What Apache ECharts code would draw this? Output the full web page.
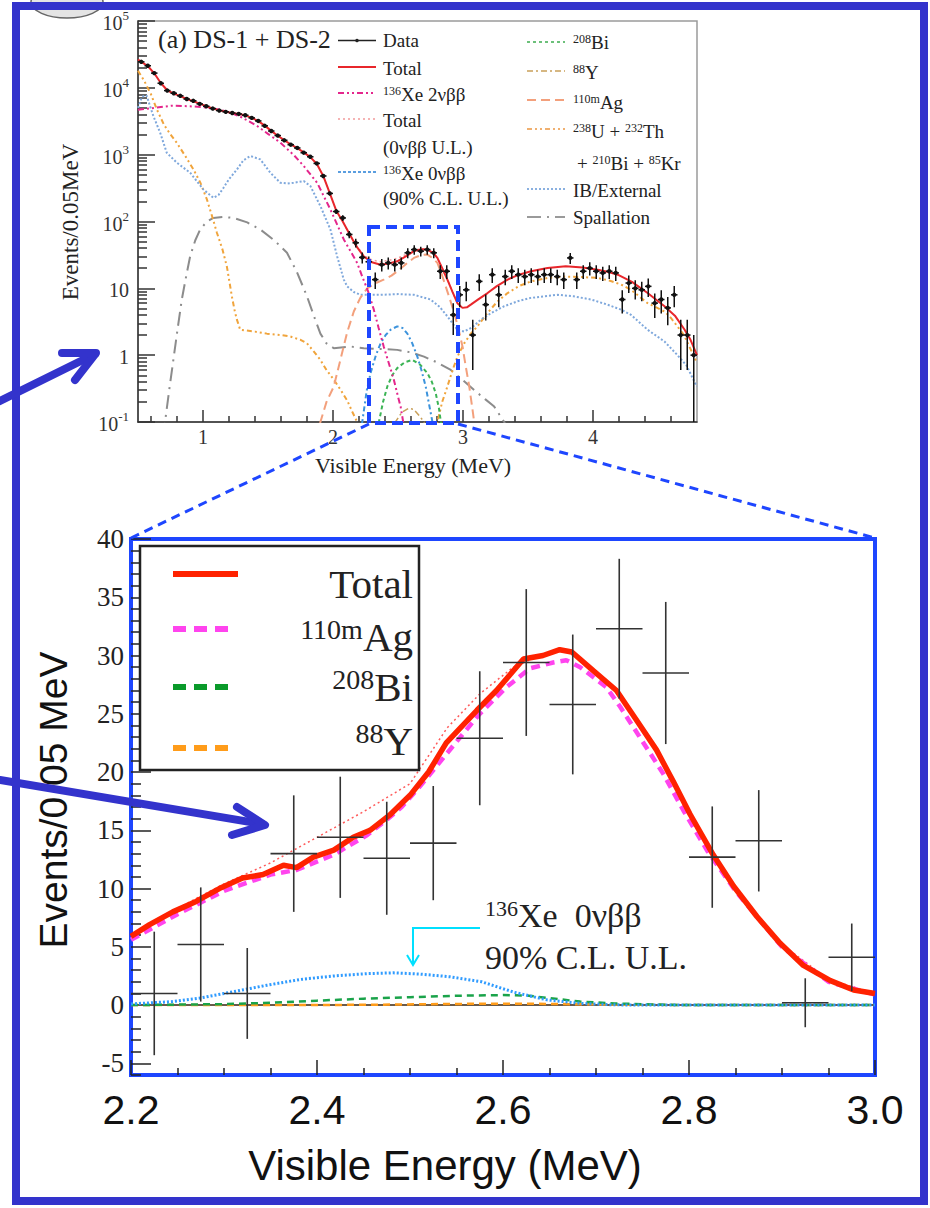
<!DOCTYPE html>
<html><head><meta charset="utf-8">
<script src="https://cdn.jsdelivr.net/npm/echarts@6/dist/echarts.min.js"></script>
<style>html,body{margin:0;padding:0;background:#fff}#c{width:930px;height:1208px}</style>
</head><body><div id="c"></div>
<script>
// ================= DATA =================
// ---- Top panel (log scale), tick values ----
const topXMajor = [1, 2, 3, 4];
const topXMinor = [0.6, 0.8, 1.2, 1.4, 1.6, 1.8, 2.2, 2.4, 2.6, 2.8, 3.2, 3.4, 3.6, 3.8, 4.2, 4.4, 4.6];
const topYMajor = [0.1, 1, 10, 100, 1000, 10000, 100000];
const topYMinor = [0.2,0.3,0.4,0.5,0.6,0.7,0.8,0.9,2,3,4,5,6,7,8,9,20,30,40,50,60,70,80,90,200,300,400,500,600,700,800,900,2000,3000,4000,5000,6000,7000,8000,9000,20000,30000,40000,50000,60000,70000,80000,90000];

// Data: [energy, events, error]
const topData = [
 [0.525,24500,157],[0.575,21400,146],[0.625,16600,129],[0.675,11700,108],[0.725,9100,95],[0.775,8300,91],[0.825,7600,87],[0.875,6800,82],[0.925,6400,80],[0.975,5750,76],
 [1.025,5300,73],[1.075,4900,70],[1.125,4570,68],[1.175,4370,66],[1.225,4200,65],[1.275,4070,64],[1.325,3890,62],[1.375,3550,60],[1.425,3200,57],[1.475,2700,52],
 [1.525,2260,48],[1.575,1930,44],[1.625,1640,40],[1.675,1410,38],[1.725,1260,35],[1.775,1070,33],[1.825,930,30],[1.875,740,27],[1.925,480,22],[1.975,263,16],
 [2.025,141,12],[2.075,113,11],[2.125,64,8],[2.175,48,7],[2.225,29,5.4],[2.275,25,5],[2.325,13.5,3.7],[2.375,22.6,4.8],[2.425,24,4.9],[2.475,22.6,4.8],
 [2.525,24,4.9],[2.575,34,5.8],[2.625,38,6.2],[2.675,36,6],[2.725,38,6.2],[2.775,34,5.8],[2.825,18,4.2],[2.875,18,4.2],[2.925,4,2],[2.975,8,2.8],
 [3.025,9.5,3.1],[3.075,2,1.4],[3.125,12.7,3.6],[3.175,5.7,2.4],[3.225,16,4],[3.275,8,2.8],[3.325,15,3.9],[3.375,18,4.2],[3.425,16,4],[3.475,15,3.9],
 [3.525,16,4],[3.575,15,3.9],[3.625,16,4],[3.675,16,4],[3.725,15,3.9],[3.775,13.5,3.7],[3.825,28.5,5.3],[3.875,13.5,3.7],[3.925,18,4.2],[3.975,20,4.5],
 [4.025,18,4.2],[4.075,17,4.1],[4.125,18,4.2],[4.175,17,4.1],[4.225,6.8,2.6],[4.275,12,3.5],[4.325,10,3.2],[4.375,9.5,3.1],[4.425,10.7,3.3],[4.475,6,2.4],
 [4.525,6.8,2.6],[4.575,5.1,2.3],[4.625,8,2.8],[4.675,2,1.4],[4.725,2,1.4],[4.775,1,1]
];
const topTotal = [[0.5,26500],[0.525,24500],[0.575,21200],[0.625,16500],[0.675,11800],[0.725,9200],[0.775,8200],[0.825,7500],[0.875,6800],[0.925,6300],[0.975,5800],[1.025,5300],[1.075,4900],[1.125,4600],[1.175,4380],[1.225,4200],[1.275,4060],[1.325,3880],[1.375,3560],[1.425,3180],[1.475,2720],[1.525,2270],[1.575,1920],[1.625,1650],[1.675,1420],[1.725,1250],[1.775,1080],[1.825,920],[1.875,730],[1.925,480],[1.975,265],[2.025,145],[2.075,100],[2.125,66],[2.175,44],[2.237,30],[2.3,24.5],[2.366,22.6],[2.43,23.5],[2.494,25.4],[2.56,30],[2.622,36],[2.68,38.5],[2.726,38],[2.77,34],[2.803,28.5],[2.84,20],[2.88,13.5],[2.92,8.8],[2.957,6.0],[2.996,5.1],[3.03,5.2],[3.06,5.7],[3.12,6.9],[3.189,8.5],[3.26,10.8],[3.343,13.5],[3.43,16],[3.523,18],[3.65,20.2],[3.79,21.4],[3.92,20.5],[4.036,19],[4.12,17.6],[4.19,16],[4.3,12.5],[4.42,8.5],[4.55,5.4],[4.63,3.9],[4.705,2.4],[4.75,1.7],[4.8,1.0]];
const topTotalUL = [[2.1,80],[2.175,45],[2.237,31],[2.3,26.5],[2.366,25],[2.43,26.2],[2.494,28.2],[2.56,32],[2.622,37],[2.68,39],[2.726,38.2],[2.77,34],[2.803,28.5],[2.84,20],[2.88,13.5],[2.92,8.8],[2.957,6.0]];
const topXe2nu = [[0.5,4700],[0.6,4950],[0.76,5400],[0.9,5300],[1.03,5070],[1.12,4750],[1.21,4270],[1.3,3600],[1.415,2700],[1.5,2050],[1.595,1510],[1.7,980],[1.775,676],[1.878,380],[1.98,151],[2.083,54],[2.186,24],[2.225,15],[2.27,9],[2.314,4.8],[2.35,2.6],[2.39,1.35],[2.43,0.75],[2.468,0.43],[2.5,0.24],[2.52,0.17],[2.54,0.1],[2.56,0.06]];
const topXe0nu = [[2.2,0.06],[2.225,0.1],[2.26,0.3],[2.289,0.54],[2.33,1.0],[2.366,1.5],[2.405,2.0],[2.443,2.4],[2.494,2.7],[2.535,2.55],[2.572,2.1],[2.61,1.5],[2.649,0.95],[2.68,0.6],[2.713,0.34],[2.74,0.18],[2.765,0.1],[2.78,0.06]];
const topBi208 = [[2.33,0.06],[2.353,0.1],[2.385,0.2],[2.418,0.34],[2.455,0.5],[2.494,0.64],[2.55,0.78],[2.61,0.85],[2.67,0.72],[2.726,0.54],[2.76,0.4],[2.79,0.27],[2.815,0.16],[2.83,0.1],[2.845,0.06]];
const topY88 = [[2.46,0.06],[2.48,0.1],[2.53,0.14],[2.58,0.16],[2.62,0.155],[2.67,0.12],[2.70,0.1],[2.72,0.06]];
const topAg110m = [[1.88,0.06],[1.903,0.1],[1.95,0.2],[2.006,0.34],[2.06,0.9],[2.109,2.2],[2.16,4.5],[2.21,7.2],[2.263,10],[2.33,12],[2.39,13.5],[2.45,15.5],[2.494,18],[2.56,23],[2.622,28.5],[2.68,31.5],[2.726,32],[2.77,28],[2.803,24],[2.835,16.5],[2.867,10.7],[2.9,6.8],[2.932,4.3],[2.965,2.5],[2.996,1.35],[3.02,0.7],[3.048,0.34],[3.07,0.17],[3.086,0.1],[3.1,0.06]];
const topUThLow = [[0.5,18000],[0.55,12500],[0.6,8000],[0.644,4800],[0.7,2800],[0.75,2000],[0.798,1510],[0.86,980],[0.927,600],[0.98,380],[1.03,214],[1.07,120],[1.107,68],[1.15,38],[1.184,21],[1.205,12],[1.222,7.6],[1.245,4.5],[1.261,3.4],[1.286,2.4],[1.4,2.25],[1.492,2.1],[1.6,2.0],[1.672,1.9],[1.75,1.7],[1.8,1.5],[1.85,1.15],[1.903,0.85],[1.95,0.6],[2.006,0.43],[2.06,0.3],[2.109,0.21],[2.15,0.14],[2.186,0.1],[2.2,0.08]];
const topUThHigh = [[2.78,0.06],[2.803,0.1],[2.84,0.2],[2.88,0.34],[2.92,0.6],[2.957,0.95],[3.009,1.5],[3.06,2.1],[3.111,2.7],[3.189,4.3],[3.26,6.2],[3.343,8.5],[3.43,10.8],[3.523,12.7],[3.65,14.3],[3.78,15],[3.908,14.8],[4.036,14.3],[4.13,13],[4.216,11.4],[4.293,9.5],[4.42,6.0],[4.55,4.5],[4.6,3.6],[4.7,2.0],[4.795,0.8]];
const topIB = [[0.5,5000],[0.529,7200],[0.55,7700],[0.567,7600],[0.59,5500],[0.618,3800],[0.67,2140],[0.721,1070],[0.798,760],[0.901,537],[1.003,302],[1.08,226],[1.12,250],[1.158,320],[1.2,430],[1.261,600],[1.31,820],[1.364,955],[1.441,850],[1.518,537],[1.595,380],[1.65,370],[1.697,380],[1.775,403],[1.826,339],[1.903,170],[1.98,76],[2.032,30],[2.083,13.5],[2.109,10.7],[2.16,8.8],[2.212,8],[2.366,8],[2.5,8.2],[2.622,8],[2.751,6.8],[2.82,5.3],[2.88,3.8],[2.957,2.4],[3.009,2.26],[3.07,2.6],[3.137,3.4],[3.22,4.3],[3.317,5.4],[3.42,6.4],[3.523,7.2],[3.728,8],[3.85,7.6],[3.985,6.8],[4.1,5.8],[4.216,4.8],[4.293,4.0],[4.42,2.4],[4.55,1.6],[4.65,1.0],[4.72,0.7],[4.78,0.4],[4.8,0.34]];
const topSpall = [[0.7,0.06],[0.708,0.1],[0.74,0.3],[0.772,0.85],[0.805,2.5],[0.837,6.8],[0.87,15],[0.901,30],[0.94,52],[0.978,76],[1.03,100],[1.08,113],[1.16,117],[1.235,113],[1.34,97],[1.441,76],[1.55,52],[1.646,34],[1.72,18],[1.8,7.6],[1.85,4.0],[1.903,2.1],[1.95,1.5],[2.006,1.27],[2.135,1.35],[2.237,1.27],[2.4,1.23],[2.494,1.2],[2.6,1.1],[2.7,0.95],[2.8,0.78],[2.906,0.6],[3.0,0.42],[3.086,0.3],[3.17,0.22],[3.24,0.17],[3.317,0.1],[3.35,0.075]];

// ---- Bottom panel (linear zoom 2.2 - 3.0 MeV) ----
const botXMajor = [2.2, 2.4, 2.6, 2.8, 3.0];
const botXMinor = [2.25, 2.3, 2.35, 2.45, 2.5, 2.55, 2.65, 2.7, 2.75, 2.85, 2.9, 2.95];
const botYMajor = [-5, 0, 5, 10, 15, 20, 25, 30, 35, 40];
const botYMinor = [-6,-4,-3,-2,-1,1,2,3,4,6,7,8,9,11,12,13,14,16,17,18,19,21,22,23,24,26,27,28,29,31,32,33,34,36,37,38,39];
const botData = [[2.225,1.0,5.3],[2.275,5.2,4.9],[2.325,1.0,3.9],[2.375,13.0,5.0],[2.425,14.4,5.2],[2.475,12.6,4.85],[2.525,13.9,4.9],[2.575,22.9,5.75],[2.625,29.4,6.3],[2.675,25.8,6.0],[2.725,32.3,6.0],[2.775,28.5,6.1],[2.825,12.7,4.35],[2.875,14.1,4.35],[2.925,0.2,2.1],[2.975,4.1,2.9]];
const botTotal = [[2.2,5.9],[2.22,6.9],[2.245,8.0],[2.27,8.9],[2.295,10.0],[2.32,10.9],[2.342,11.2],[2.364,12.0],[2.378,11.8],[2.396,12.7],[2.418,13.3],[2.439,14.4],[2.457,15.0],[2.478,16.3],[2.5,18.0],[2.52,20.0],[2.539,22.5],[2.572,25.3],[2.593,27.0],[2.622,29.7],[2.643,30.0],[2.661,30.5],[2.674,30.3],[2.697,28.7],[2.722,27.0],[2.744,24.4],[2.765,21.9],[2.783,19.2],[2.801,16.4],[2.826,12.9],[2.848,10.2],[2.873,7.6],[2.898,5.3],[2.923,3.4],[2.952,2.1],[2.977,1.3],[3.0,1.0]];
const botTotalUL = [[2.2,6.0],[2.25,8.3],[2.3,10.4],[2.35,12.2],[2.4,14.4],[2.45,16.6],[2.5,19.0],[2.54,23.8],[2.575,26.7],[2.611,29.0],[2.64,30.0],[2.662,30.6],[2.68,30.0],[2.7,28.6],[2.722,27.0],[2.744,24.4],[2.765,21.9],[2.783,19.2],[2.801,16.4],[2.826,12.9],[2.85,10.0],[2.9,5.2],[2.95,2.2],[3.0,1.0]];
const botAg110m = [[2.2,5.6],[2.25,7.8],[2.3,9.8],[2.35,11.2],[2.378,11.6],[2.418,12.9],[2.454,14.6],[2.475,15.9],[2.491,17.0],[2.511,18.8],[2.55,22.6],[2.575,25.0],[2.604,27.3],[2.629,28.9],[2.654,29.4],[2.668,29.6],[2.683,29.0],[2.711,27.3],[2.726,25.6],[2.747,23.0],[2.772,19.9],[2.794,16.7],[2.82,13.2],[2.85,9.8],[2.9,5.0],[2.95,2.0],[3.0,0.9]];
const botXe0nu = [[2.2,0.1],[2.245,0.3],[2.274,0.6],[2.31,1.15],[2.346,1.7],[2.382,2.2],[2.418,2.5],[2.454,2.7],[2.482,2.77],[2.511,2.66],[2.543,2.43],[2.577,2.0],[2.612,1.1],[2.647,0.45],[2.683,0.15],[2.72,0.02],[2.8,0],[3.0,0]];
const botBi208 = [[2.2,0],[2.3,0.08],[2.35,0.2],[2.4,0.38],[2.45,0.55],[2.5,0.68],[2.55,0.8],[2.6,0.86],[2.625,0.82],[2.65,0.6],[2.683,0.3],[2.72,0.14],[2.76,0.05],[2.8,0],[3.0,0]];
const botY88 = [[2.2,0],[2.45,0.02],[2.55,0.1],[2.6,0.12],[2.65,0.1],[2.75,0.02],[3.0,0]];
const botOthers = [[2.2,0],[2.6,0],[3.0,0]];

// ================= CHART =================
const SERIF = 'Liberation Serif';
const SANS = 'Liberation Sans';
const BLUE = '#1e46ff';
const FRAME = '#3333cc';

function line(name, data, xi, yi, color, width, dash, z) {
  return {type: 'line', name: name, xAxisIndex: xi, yAxisIndex: yi, data: data, showSymbol: false, symbol: 'none',
    lineStyle: {color: color, width: width, type: dash || 'solid'}, z: z || 3, silent: true, clip: true};
}
function errSeries(data, xi, yi, hw, yFloor, color, lw, dotR) {
  return {
    type: 'custom', xAxisIndex: xi, yAxisIndex: yi, data: data, z: 20, silent: true, clip: true,
    encode: {x: 0, y: 1},
    renderItem: function (params, api) {
      const x = api.value(0), y = api.value(1), e = api.value(2);
      const lo = Math.max(y - e, yFloor);
      const c = api.coord([x, y]);
      const cl = api.coord([x, lo]);
      const ch = api.coord([x, y + e]);
      const xl = api.coord([x - hw, y]);
      const xr = api.coord([x + hw, y]);
      const ch2 = [
        {type: 'line', shape: {x1: c[0], y1: cl[1], x2: c[0], y2: ch[1]}, style: {stroke: color, lineWidth: lw}},
        {type: 'line', shape: {x1: xl[0], y1: c[1], x2: xr[0], y2: c[1]}, style: {stroke: color, lineWidth: lw}}
      ];
      if (dotR > 0) ch2.push({type: 'circle', shape: {cx: c[0], cy: c[1], r: dotR}, style: {fill: color}});
      return {type: 'group', children: ch2};
    }
  };
}

function richText(x, y, text, size, supSize, opts) {
  opts = opts || {};
  const fam = opts.family || SERIF;
  const col = opts.color || '#222';
  const ss = supSize || Math.round(size * 0.62);
  return {
    type: 'text', x: x, y: y, z: 100, rotation: opts.rotation || 0,
    style: {
      text: text, fill: col, fontFamily: fam, fontSize: size,
      textAlign: opts.align || 'left', textVerticalAlign: opts.va || 'bottom',
      rich: {
        b: {fontFamily: fam, fontSize: size, fill: col, lineHeight: Math.round(size * 1.02), verticalAlign: 'bottom'},
        s: {fontFamily: fam, fontSize: ss, fill: col, lineHeight: ss, verticalAlign: 'top'}
      }
    }
  };
}
function seg(x1, y1, x2, y2, color, width, dash, z) {
  return {type: 'line', z: z || 100, shape: {x1: x1, y1: y1, x2: x2, y2: y2},
    style: {stroke: color, lineWidth: width, lineDash: dash || null, lineCap: 'butt'}};
}

// top legend entries
const TL = [];
const c1a = 338, c1b = 376, c1t = 383, c2a = 527, c2b = 565, c2t = 573;
TL.push(seg(c1a, 40.5, c1b, 40.5, '#222', 1.5));
TL.push({type: 'circle', z: 100, shape: {cx: 357, cy: 40.5, r: 1.8}, style: {fill: '#222'}});
TL.push(richText(c1t, 50, '{b|Data}', 19));
TL.push(seg(c1a, 67, c1b, 67, '#e8262b', 2));
TL.push(richText(c1t, 78, '{b|Total}', 19));
TL.push(seg(c1a, 93, c1b, 93, '#e4268c', 2, [6, 3, 2, 3, 2, 3]));
TL.push(richText(c1t, 104, '{s|136}{b|Xe 2νββ}', 19, 12));
TL.push(seg(c1a, 119, c1b, 119, '#f29a9a', 1.5, [2, 3]));
TL.push(richText(c1t, 130, '{b|Total}', 19));
TL.push(richText(c1t, 157, '{b|(0νββ U.L.)}', 19));
TL.push(seg(c1a, 172, c1b, 172, '#5a9ee0', 1.8, [3, 2]));
TL.push(richText(c1t, 183, '{s|136}{b|Xe 0νββ}', 19, 12));
TL.push(richText(c1t, 208, '{b|(90% C.L. U.L.)}', 19));
TL.push(seg(c2a, 42, c2b, 42, '#6cc07a', 1.8, [3, 3]));
TL.push(richText(c2t, 52, '{s|208}{b|Bi}', 19, 12));
TL.push(seg(c2a, 71, c2b, 71, '#c9a05a', 1.5, [6, 3, 2, 3]));
TL.push(richText(c2t, 82, '{s|88}{b|Y}', 19, 12));
TL.push(seg(c2a, 100, c2b, 100, '#f3a07c', 2, [9, 5]));
TL.push(richText(c2t, 112, '{s|110m}{b|Ag}', 19, 12));
TL.push(seg(c2a, 129, c2b, 129, '#f0b070', 1.8, [5, 3, 2, 3, 2, 3]));
TL.push(richText(c2t, 141, '{s|238}{b|U + }{s|232}{b|Th}', 19, 12));
TL.push(richText(c2t + 4, 173, '{b|+ }{s|210}{b|Bi + }{s|85}{b|Kr}', 19, 12));
TL.push(seg(c2a, 189, c2b, 189, '#8ab0e0', 1.8, [2, 2]));
TL.push(richText(c2t, 200, '{b|IB/External}', 19));
TL.push(seg(c2a, 217, c2b, 217, '#9a9a9a', 2, [14, 6, 2, 6]));
TL.push(richText(c2t, 227, '{b|Spallation}', 19));

// bottom legend
const BL = [];
BL.push({type: 'rect', z: 90, shape: {x: 140, y: 546, width: 279, height: 224}, style: {fill: '#fff', stroke: '#222', lineWidth: 2.5}});
BL.push(seg(173, 574, 238, 574, '#ff2200', 6));
BL.push(seg(173, 629, 228, 629, '#ff44ee', 6, [13, 8]));
BL.push(seg(173, 687, 228, 687, '#0a9a2a', 6, [13, 8]));
BL.push(seg(173, 748, 228, 748, '#ff9c1a', 6, [13, 8]));
BL.push(richText(413, 604, '{b|Total}', 41, 27, {align: 'right'}));
BL.push(richText(413, 657, '{s|110m}{b|Ag}', 41, 28, {align: 'right'}));
BL.push(richText(413, 707, '{s|208}{b|Bi}', 41, 28, {align: 'right'}));
BL.push(richText(413, 761, '{s|88}{b|Y}', 41, 28, {align: 'right'}));

const graphics = [].concat(
  // logo remnant
  [{type: 'ellipse', z: 1, shape: {cx: 67, cy: 2, rx: 36, ry: 16}, style: {fill: '#e4e4e4', stroke: '#666', lineWidth: 1.5}}],
  // title top
  [richText(158, 52, '{b|(a) DS-1 + DS-2}', 26)],
  TL,
  // top axis titles
  [richText(413, 476, '{b|Visible Energy (MeV)}', 22, 14, {align: 'center'})],
  [{type: 'text', x: 70, y: 222, z: 100, rotation: Math.PI / 2,
    style: {text: 'Events/0.05MeV', fontFamily: SERIF, fontSize: 23, fill: '#222', textAlign: 'center', textVerticalAlign: 'middle'}}],
  // zoom box & connectors
  [{type: 'rect', z: 120, shape: {x: 369, y: 227, width: 89, height: 196}, style: {fill: 'none', stroke: BLUE, lineWidth: 4, lineDash: [11, 6]}}],
  [seg(369, 424, 131, 538, BLUE, 3, [9, 6], 120), seg(458, 424, 875, 538, BLUE, 3, [9, 6], 120)],
  BL,
  // annotation
  [richText(485, 932, '{s|136}{b|Xe  0νββ}', 34, 22)],
  [richText(485, 974, '{b|90% C.L. U.L.}', 34)],
  [{type: 'polyline', z: 100, shape: {points: [[480, 928], [413, 928], [413, 964]]}, style: {fill: 'none', stroke: '#00e0ff', lineWidth: 2}},
   {type: 'polyline', z: 100, shape: {points: [[407, 955], [413, 965], [419, 955]]}, style: {fill: 'none', stroke: '#00e0ff', lineWidth: 2}}],
  // bottom axis titles
  [{type: 'text', x: 445, y: 1165, z: 100,
    style: {text: 'Visible Energy (MeV)', fontFamily: SANS, fontSize: 42, fill: '#111', textAlign: 'center', textVerticalAlign: 'middle'}}],
  [{type: 'text', x: 53, y: 800, z: 100, rotation: Math.PI / 2,
    style: {text: 'Events/0.05 MeV', fontFamily: SANS, fontSize: 39, fill: '#111', textAlign: 'center', textVerticalAlign: 'middle'}}],
  // outer frame and arrows
  [{type: 'rect', z: 200, shape: {x: 16, y: 6, width: 908, height: 1195}, style: {fill: 'none', stroke: FRAME, lineWidth: 8}}],
  [{type: 'polyline', z: 210, shape: {points: [[0, 401], [95, 354]]}, style: {fill: 'none', stroke: FRAME, lineWidth: 8, lineCap: 'round'}},
   {type: 'polyline', z: 210, shape: {points: [[62, 353], [96, 353], [75, 380]]}, style: {fill: 'none', stroke: FRAME, lineWidth: 8, lineCap: 'round', lineJoin: 'round'}},
   {type: 'polyline', z: 210, shape: {points: [[0, 780], [262, 824]]}, style: {fill: 'none', stroke: FRAME, lineWidth: 8, lineCap: 'round'}},
   {type: 'polyline', z: 210, shape: {points: [[237, 807], [265, 825], [232, 835]]}, style: {fill: 'none', stroke: FRAME, lineWidth: 8, lineCap: 'round', lineJoin: 'round'}}]
);

function supFmt(v) {
  const e = Math.round(Math.log10(v));
  if (e === 0) return '{b|1}';
  if (e === 1) return '{b|10}';
  return '{b|10}{s|' + e + '}';
}

const option = {
  animation: false,
  backgroundColor: '#fff',
  grid: [
    {left: 138, top: 21, width: 559, height: 401, show: true, borderColor: '#9a9a9a', borderWidth: 1.5, backgroundColor: 'transparent'},
    {left: 131, top: 539, width: 744, height: 536, show: true, borderColor: BLUE, borderWidth: 4, backgroundColor: 'transparent'}
  ],
  xAxis: [
    {gridIndex: 0, type: 'value', min: 0.5, max: 4.8, position: 'bottom',
     axisLine: {show: true, onZero: false, lineStyle: {color: '#333', width: 1.5}},
     axisTick: {show: true, inside: true, length: 12, customValues: topXMajor, lineStyle: {color: '#333', width: 1.5}},
     axisLabel: {show: true, customValues: topXMajor, margin: 5, fontFamily: SERIF, fontSize: 20, color: '#333', formatter: v => String(v)},
     splitLine: {show: false}},
    {gridIndex: 0, type: 'value', min: 0.5, max: 4.8, position: 'bottom',
     axisLine: {show: false, onZero: false},
     axisTick: {show: true, inside: true, length: 6, customValues: topXMinor, lineStyle: {color: '#333', width: 1.5}},
     axisLabel: {show: false}, splitLine: {show: false}},
    {gridIndex: 1, type: 'value', min: 2.2, max: 3.0, position: 'bottom',
     axisLine: {show: true, onZero: false, lineStyle: {color: BLUE, width: 4}},
     axisTick: {show: true, inside: true, length: 15, customValues: botXMajor, lineStyle: {color: '#222', width: 1.5}},
     axisLabel: {show: true, customValues: botXMajor, margin: 14, fontFamily: SANS, fontSize: 41, color: '#111', formatter: v => v.toFixed(1)},
     splitLine: {show: false}},
    {gridIndex: 1, type: 'value', min: 2.2, max: 3.0, position: 'bottom',
     axisLine: {show: false, onZero: false},
     axisTick: {show: true, inside: true, length: 7, customValues: botXMinor, lineStyle: {color: '#222', width: 1.5}},
     axisLabel: {show: false}, splitLine: {show: false}}
  ],
  yAxis: [
    {gridIndex: 0, type: 'log', logBase: 10, min: 0.1, max: 100000, position: 'left',
     axisLine: {show: true, onZero: false, lineStyle: {color: '#333', width: 1.5}},
     axisTick: {show: true, inside: true, length: 17, customValues: topYMajor, lineStyle: {color: '#333', width: 1.5}},
     axisLabel: {show: true, customValues: topYMajor, margin: 9, formatter: supFmt,
       rich: {b: {fontFamily: SERIF, fontSize: 20, color: '#333', lineHeight: 24, verticalAlign: 'bottom'},
              s: {fontFamily: SERIF, fontSize: 13, color: '#333', lineHeight: 13, verticalAlign: 'top'}}},
     splitLine: {show: false}},
    {gridIndex: 0, type: 'log', logBase: 10, min: 0.1, max: 100000, position: 'left',
     axisLine: {show: false, onZero: false},
     axisTick: {show: true, inside: true, length: 9, customValues: topYMinor, lineStyle: {color: '#333', width: 1.5}},
     axisLabel: {show: false}, splitLine: {show: false}},
    {gridIndex: 1, type: 'value', min: -6, max: 40, position: 'left',
     axisLine: {show: true, onZero: false, lineStyle: {color: BLUE, width: 4}},
     axisTick: {show: true, inside: true, length: 20, customValues: botYMajor, lineStyle: {color: '#222', width: 1.5}},
     axisLabel: {show: true, customValues: botYMajor, margin: 7, fontFamily: SERIF, fontSize: 27, color: '#222'},
     splitLine: {show: false}},
    {gridIndex: 1, type: 'value', min: -6, max: 40, position: 'left',
     axisLine: {show: false, onZero: false},
     axisTick: {show: true, inside: true, length: 10, customValues: botYMinor, lineStyle: {color: '#222', width: 1.5}},
     axisLabel: {show: false}, splitLine: {show: false}}
  ],
  series: [
    // top panel
    line('Spallation', topSpall, 0, 0, '#8c8c8c', 2, [14, 6, 2, 6]),
    line('238U + 232Th + 210Bi + 85Kr', topUThLow, 0, 0, '#f0a43c', 2, [5, 3, 2, 3, 2, 3]),
    line('238U + 232Th + 210Bi + 85Kr (high)', topUThHigh, 0, 0, '#f0a43c', 2, [5, 3, 2, 3, 2, 3]),
    line('IB/External', topIB, 0, 0, '#7fa8dc', 2, [2, 2]),
    line('110mAg', topAg110m, 0, 0, '#f3a07c', 2, [9, 5]),
    line('88Y', topY88, 0, 0, '#c9a05a', 1.5, [6, 3, 2, 3]),
    line('208Bi', topBi208, 0, 0, '#3cb455', 2, [4, 3]),
    line('136Xe 0vbb', topXe0nu, 0, 0, '#3c93dc', 2, [5, 3, 2, 3]),
    line('136Xe 2vbb', topXe2nu, 0, 0, '#e4268c', 2, [6, 3, 2, 3, 2, 3]),
    line('Total (0vbb U.L.)', topTotalUL, 0, 0, '#f29a9a', 1.5, [2, 3]),
    line('Total', topTotal, 0, 0, '#e8262b', 2, 'solid', 5),
    errSeries(topData, 0, 0, 0.025, 0.1, '#111', 1.5, 2.2),
    // bottom panel
    line('others', botOthers, 2, 2, '#6a5a4a', 2, 'solid'),
    line('88Y', botY88, 2, 2, '#ff9c1a', 2.5, [7, 5]),
    line('208Bi', botBi208, 2, 2, '#1aa34a', 2.5, [7, 5]),
    line('136Xe 0vbb', botXe0nu, 2, 2, '#2f9bff', 3, [2, 2]),
    line('Total (0vbb U.L.)', botTotalUL, 2, 2, '#ff5a5a', 1.5, [2, 3]),
    line('110mAg', botAg110m, 2, 2, '#ff44ee', 4.5, [9, 6]),
    line('Total', botTotal, 2, 2, '#ff2200', 5.5, 'solid', 6),
    errSeries(botData, 2, 2, 0.025, -6, '#333', 1.6, 0)
  ],
  graphic: graphics
};

const chart = echarts.init(document.getElementById('c'), null, {renderer: 'svg', width: 930, height: 1208});
chart.setOption(option);
</script>
</body></html>
